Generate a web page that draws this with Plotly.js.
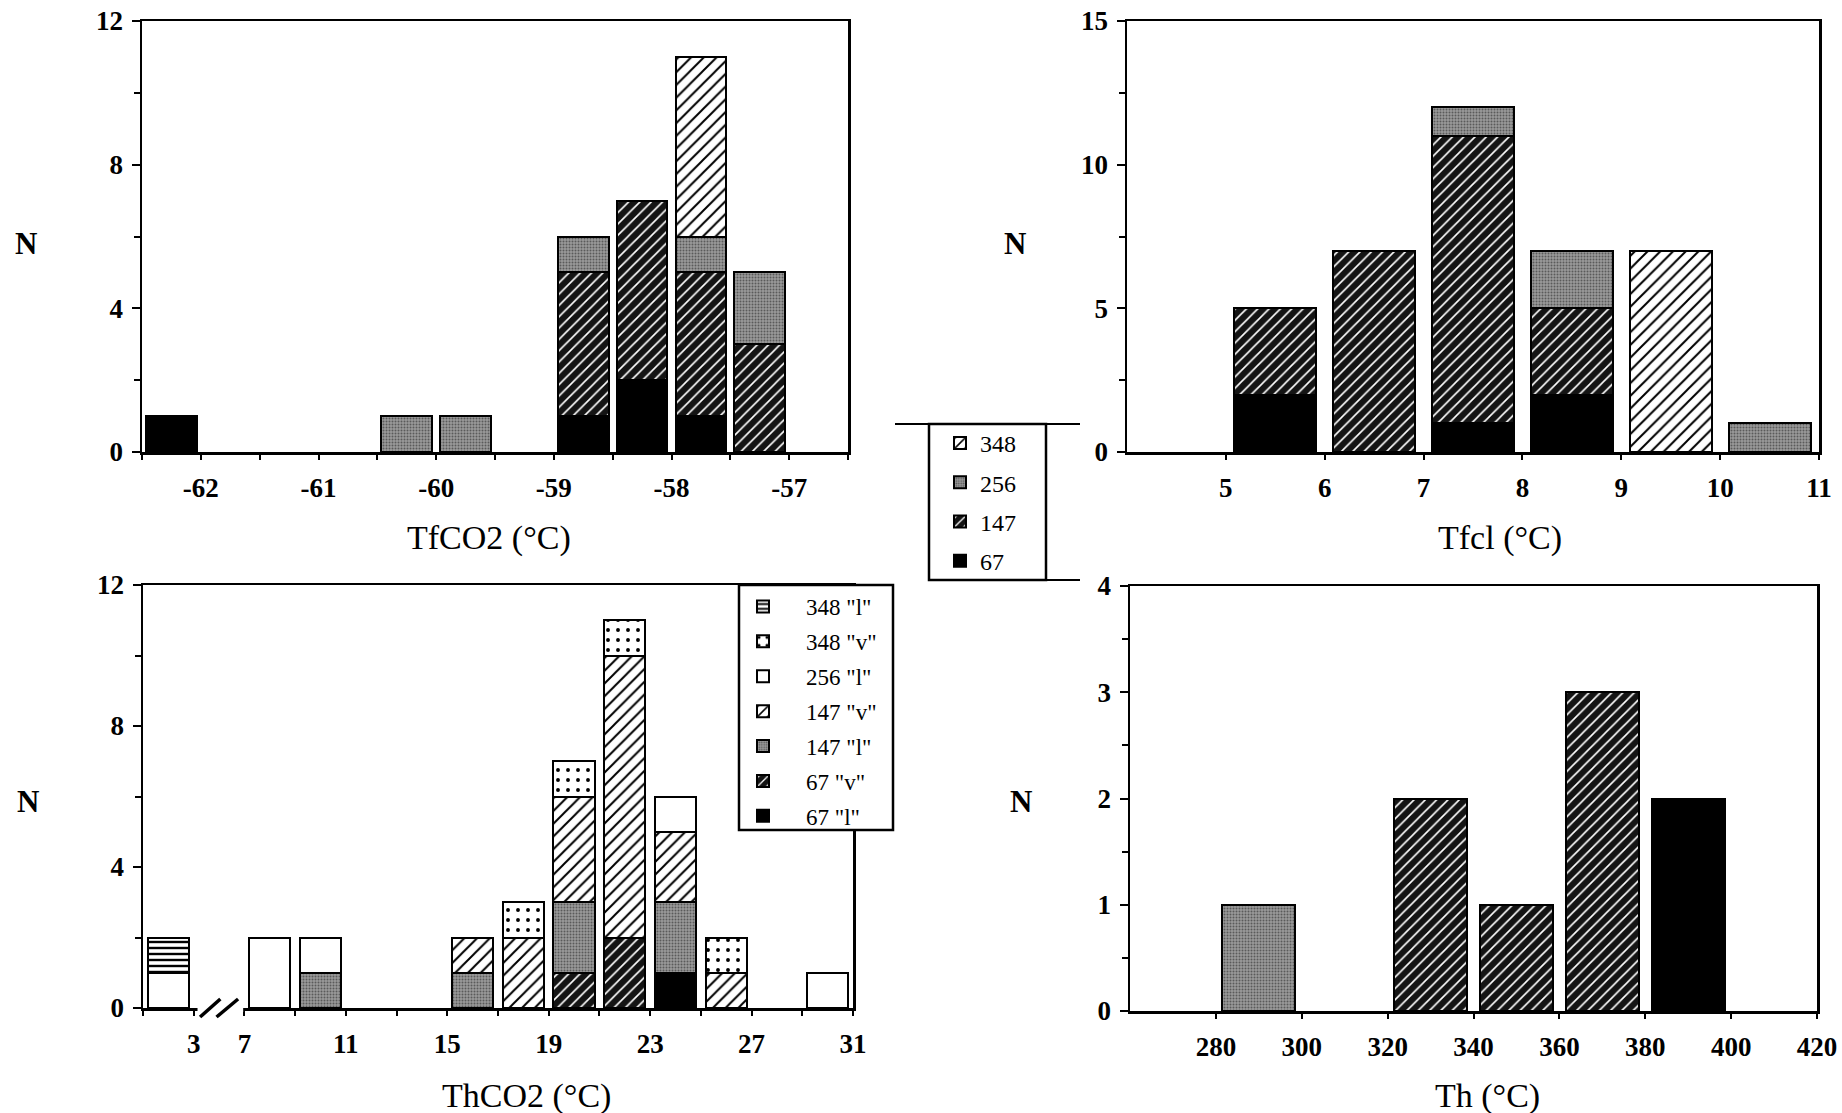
<!DOCTYPE html>
<html>
<head>
<meta charset="utf-8">
<script src="https://cdn.plot.ly/plotly-3.0.1.min.js"></script>
<style>html,body{margin:0;padding:0;background:#fff;}#chart{width:1842px;height:1113px;}</style>
</head>
<body>
<div id="chart"></div>
<script>
// ---------- DATA ----------
// Panel A: TfCO2 (°C), bin centres (0.5 °C bins)
const tfco2Bins = [-62.25, -60.25, -59.75, -58.75, -58.25, -57.75, -57.25];
const tfco2_67  = [1, 0, 0, 1, 2, 1, 0];
const tfco2_147 = [0, 0, 0, 4, 5, 4, 3];
const tfco2_256 = [0, 1, 1, 1, 0, 1, 2];
const tfco2_348 = [0, 0, 0, 0, 0, 5, 0];

// Panel B: Tfcl (°C), 1 °C bins
const tfclBins = [5.5, 6.5, 7.5, 8.5, 9.5, 10.5];
const tfcl_67  = [2, 0, 1, 2, 0, 0];
const tfcl_147 = [3, 7, 10, 3, 0, 0];
const tfcl_256 = [0, 0, 1, 2, 0, 1];
const tfcl_348 = [0, 0, 0, 0, 7, 0];

// Panel C: ThCO2 (°C), 2 °C bins (axis broken between 3 and 7)
const thco2Bins = [2, 8, 10, 16, 18, 20, 22, 24, 26, 30];
const thco2_67l  = [0, 0, 0, 0, 0, 0, 0, 1, 0, 0];
const thco2_67v  = [0, 0, 0, 0, 0, 1, 2, 0, 0, 0];
const thco2_147l = [0, 0, 1, 1, 0, 2, 0, 2, 0, 0];
const thco2_147v = [0, 0, 0, 1, 2, 3, 8, 2, 1, 0];
const thco2_256l = [1, 2, 1, 0, 0, 0, 0, 1, 0, 1];
const thco2_348v = [0, 0, 0, 0, 1, 1, 1, 0, 1, 0];
const thco2_348l = [1, 0, 0, 0, 0, 0, 0, 0, 0, 0];
const thco2TickVals = [3, 7, 11, 15, 19, 23, 27, 31];

// Panel D: Th (°C), 20 °C bins
const thBins = [290, 330, 350, 370, 390];
const th_67  = [0, 0, 0, 0, 2];
const th_147 = [0, 2, 1, 3, 0];
const th_256 = [1, 0, 0, 0, 0];
const th_348 = [0, 0, 0, 0, 0];

// ---------- HELPERS ----------
const W = 1842, H = 1113;
const px = x => x / W;
const py = y => 1 - y / H;
const nz = a => a.map(v => (v === 0 ? null : v));
// broken axis: values below the break are shifted right by 2 units
const brk = t => (t < 5 ? t + 2 : t);
const pad = s => '\u00a0\u00a0\u00a0\u00a0' + s;

const SERIF = 'Liberation Serif, Times New Roman, serif';
const OUT = {color: '#000', width: 2};

const STY = {
  hatchLight: {color: '#fff', line: OUT, pattern: {shape: '/', fgcolor: '#000', bgcolor: '#fff', size: 9, solidity: 0.22, fillmode: 'replace'}},
  hatchDark:  {color: '#111', line: OUT, pattern: {shape: '/', fgcolor: '#fff', bgcolor: '#141414', size: 8, solidity: 0.2, fillmode: 'replace'}},
  stipple:    {color: '#888', line: OUT, pattern: {shape: '.', fgcolor: '#5a5a5a', bgcolor: '#9a9a9a', size: 3, solidity: 0.35, fillmode: 'replace'}},
  black:      {color: '#000', line: OUT},
  white:      {color: '#fff', line: OUT},
  hstripe:    {color: '#fff', line: OUT, pattern: {shape: '-', fgcolor: '#000', bgcolor: '#fff', size: 6, solidity: 0.4, fillmode: 'replace'}},
  dashes:     {color: '#fff', line: OUT, pattern: {shape: '.', fgcolor: '#000', bgcolor: '#fff', size: 10, solidity: 0.12, fillmode: 'replace'}}
};

function bar(x, y, name, style, xa, ya, width, legendOpts) {
  const t = {
    type: 'bar', x: x, y: nz(y), name: name, marker: style,
    xaxis: xa, yaxis: ya, width: width, hoverinfo: 'skip',
    showlegend: false
  };
  if (legendOpts) Object.assign(t, legendOpts);
  return t;
}

const traces = [];
// Panel A (shows legend 1)
traces.push(bar(tfco2Bins, tfco2_67,  '67',  STY.black,      'x', 'y', 0.43, {showlegend: true, legend: 'legend',  legendgroup: 'g67',  legendrank: 4}));
traces.push(bar(tfco2Bins, tfco2_147, '147', STY.hatchDark,  'x', 'y', 0.43, {showlegend: true, legend: 'legend',  legendgroup: 'g147', legendrank: 3}));
traces.push(bar(tfco2Bins, tfco2_256, '256', STY.stipple,    'x', 'y', 0.43, {showlegend: true, legend: 'legend',  legendgroup: 'g256', legendrank: 2}));
traces.push(bar(tfco2Bins, tfco2_348, '348', STY.hatchLight, 'x', 'y', 0.43, {showlegend: true, legend: 'legend',  legendgroup: 'g348', legendrank: 1}));
// Panel B
traces.push(bar(tfclBins, tfcl_67,  '67',  STY.black,      'x2', 'y2', 0.83));
traces.push(bar(tfclBins, tfcl_147, '147', STY.hatchDark,  'x2', 'y2', 0.83));
traces.push(bar(tfclBins, tfcl_256, '256', STY.stipple,    'x2', 'y2', 0.83));
traces.push(bar(tfclBins, tfcl_348, '348', STY.hatchLight, 'x2', 'y2', 0.83));
// Panel C (shows legend 2)
const cx = thco2Bins.map(brk);
traces.push(bar(cx, thco2_67l,  pad('67 "l"'),  STY.black,      'x3', 'y3', 1.63, {showlegend: true, legend: 'legend2', legendgroup: 'c67l',  legendrank: 7}));
traces.push(bar(cx, thco2_67v,  pad('67 "v"'),  STY.hatchDark,  'x3', 'y3', 1.63, {showlegend: true, legend: 'legend2', legendgroup: 'c67v',  legendrank: 6}));
traces.push(bar(cx, thco2_147l, pad('147 "l"'), STY.stipple,    'x3', 'y3', 1.63, {showlegend: true, legend: 'legend2', legendgroup: 'c147l', legendrank: 5}));
traces.push(bar(cx, thco2_147v, pad('147 "v"'), STY.hatchLight, 'x3', 'y3', 1.63, {showlegend: true, legend: 'legend2', legendgroup: 'c147v', legendrank: 4}));
traces.push(bar(cx, thco2_256l, pad('256 "l"'), STY.white,      'x3', 'y3', 1.63, {showlegend: true, legend: 'legend2', legendgroup: 'c256l', legendrank: 3}));
traces.push(bar(cx, thco2_348v, pad('348 "v"'), STY.dashes,     'x3', 'y3', 1.63, {showlegend: true, legend: 'legend2', legendgroup: 'c348v', legendrank: 2}));
traces.push(bar(cx, thco2_348l, pad('348 "l"'), STY.hstripe,    'x3', 'y3', 1.63, {showlegend: true, legend: 'legend2', legendgroup: 'c348l', legendrank: 1}));
// Panel D
traces.push(bar(thBins, th_67,  '67',  STY.black,      'x4', 'y4', 17));
traces.push(bar(thBins, th_147, '147', STY.hatchDark,  'x4', 'y4', 17));
traces.push(bar(thBins, th_256, '256', STY.stipple,    'x4', 'y4', 17));
traces.push(bar(thBins, th_348, '348', STY.hatchLight, 'x4', 'y4', 17));

// ---------- AXES ----------
const tickFont = {family: SERIF, size: 27, color: '#000', weight: 'bold'};
function xax(dom, range, tickvals, ticktext, anchor, minor) {
  const a = {
    domain: dom, range: range, anchor: anchor, tickmode: 'array', tickvals: tickvals,
    ticktext: ticktext, showgrid: false, zeroline: false, showline: true, mirror: true,
    linecolor: '#000', linewidth: 2.5, ticks: 'outside', ticklen: 5, tickwidth: 2,
    tickcolor: '#000', tickfont: tickFont, ticklabelstandoff: 5, fixedrange: true
  };
  if (minor) a.minor = Object.assign({ticks: 'outside', ticklen: 5, tickwidth: 2, tickcolor: '#000', showgrid: false}, minor);
  return a;
}
function yax(dom, range, dtick, minorD, anchor) {
  return {
    domain: dom, range: range, anchor: anchor, tickmode: 'linear', tick0: 0, dtick: dtick,
    showgrid: false, zeroline: false, showline: true, mirror: true,
    linecolor: '#000', linewidth: 2.5, ticks: 'outside', ticklen: 8, tickwidth: 2,
    tickcolor: '#000', tickfont: tickFont, ticklabelstandoff: 3, fixedrange: true,
    minor: {tickmode: 'linear', tick0: 0, dtick: minorD, ticks: 'outside', ticklen: 6, tickwidth: 2, tickcolor: '#000', showgrid: false}
  };
}

const tfco2Ticks = [-62, -61, -60, -59, -58, -57];
const tfclTicks = [5, 6, 7, 8, 9, 10, 11];
const thTicks = [280, 300, 320, 340, 360, 380, 400, 420];

function label(text, x, y, size, bold) {
  const f = {family: SERIF, size: size, color: '#000'};
  if (bold) f.weight = 'bold';
  return {text: text, x: px(x), y: py(y), xref: 'paper', yref: 'paper', xanchor: 'center', yanchor: 'middle', showarrow: false, font: f};
}

const layout = {
  width: W, height: H, margin: {l: 0, r: 0, t: 0, b: 0},
  paper_bgcolor: '#fff', plot_bgcolor: '#fff',
  barmode: 'stack', showlegend: true,
  font: {family: SERIF, color: '#000'},
  xaxis:  xax([px(142), px(848)], [-62.5, -56.5], tfco2Ticks, tfco2Ticks.map(String), 'y', {tickmode: 'linear', tick0: -62.5, dtick: 0.5}),
  yaxis:  yax([py(452), py(21)], [0, 12], 4, 2, 'x'),
  xaxis2: xax([px(1127), px(1819)], [4, 11], tfclTicks, tfclTicks.map(String), 'y2'),
  yaxis2: yax([py(452), py(21)], [0, 15], 5, 2.5, 'x2'),
  xaxis3: xax([px(143), px(853)], [3, 31], thco2TickVals.map(brk), thco2TickVals.map(String), 'y3', {tickmode: 'linear', tick0: 3, dtick: 2}),
  yaxis3: yax([py(1008), py(585)], [0, 12], 4, 2, 'x3'),
  xaxis4: xax([px(1130), px(1817)], [260, 420], thTicks, thTicks.map(String), 'y4'),
  yaxis4: yax([py(1011), py(586)], [0, 4], 1, 0.5, 'x4'),
  legend: {
    x: px(940), y: py(421), xanchor: 'left', yanchor: 'top',
    bgcolor: 'rgba(0,0,0,0)', borderwidth: 0, traceorder: 'grouped', tracegroupgap: 5,
    font: {family: SERIF, size: 24, color: '#000'}
  },
  legend2: {
    x: px(743), y: py(585), xanchor: 'left', yanchor: 'top',
    bgcolor: 'rgba(0,0,0,0)', borderwidth: 0, traceorder: 'grouped', tracegroupgap: 2,
    font: {family: SERIF, size: 23, color: '#000'}
  },
  shapes: [
    // middle legend frame and cut lines
    {type: 'rect', xref: 'paper', yref: 'paper', x0: px(929), x1: px(1046), y0: py(580), y1: py(424), fillcolor: '#fff', line: {color: '#000', width: 2.5}, layer: 'above'},
    {type: 'line', xref: 'paper', yref: 'paper', x0: px(895), x1: px(1080), y0: py(424), y1: py(424), line: {color: '#000', width: 2}},
    {type: 'line', xref: 'paper', yref: 'paper', x0: px(1046), x1: px(1080), y0: py(580), y1: py(580), line: {color: '#000', width: 2}},
    // bottom-left legend frame
    {type: 'rect', xref: 'paper', yref: 'paper', x0: px(739), x1: px(893), y0: py(830), y1: py(585), fillcolor: '#fff', line: {color: '#000', width: 2.5}, layer: 'above'},
    // axis break on ThCO2 axis
    {type: 'rect', xref: 'x3', yref: 'paper', x0: 5.15, x1: 6.95, y0: py(1012), y1: py(1004.5), fillcolor: '#fff', line: {width: 0}, layer: 'above'},
    {type: 'line', xref: 'x3', yref: 'paper', x0: 5.25, x1: 6.05, y0: py(1017), y1: py(999), line: {color: '#000', width: 3.5}, layer: 'above'},
    {type: 'line', xref: 'x3', yref: 'paper', x0: 5.9, x1: 6.75, y0: py(1017), y1: py(999), line: {color: '#000', width: 3.5}, layer: 'above'}
  ],
  annotations: [
    label('TfCO2 (°C)', 489, 538, 34, false),
    label('Tfcl (°C)', 1500, 538, 34, false),
    label('ThCO2 (°C)', 526, 1096, 34, false),
    label('Th (°C)', 1487, 1096, 34, false),
    label('N', 26, 243, 31, true),
    label('N', 1015, 243, 31, true),
    label('N', 28, 801, 31, true),
    label('N', 1021, 801, 31, true)
  ]
};

Plotly.newPlot('chart', traces, layout, {staticPlot: true, displayModeBar: false});
</script>
</body>
</html>
